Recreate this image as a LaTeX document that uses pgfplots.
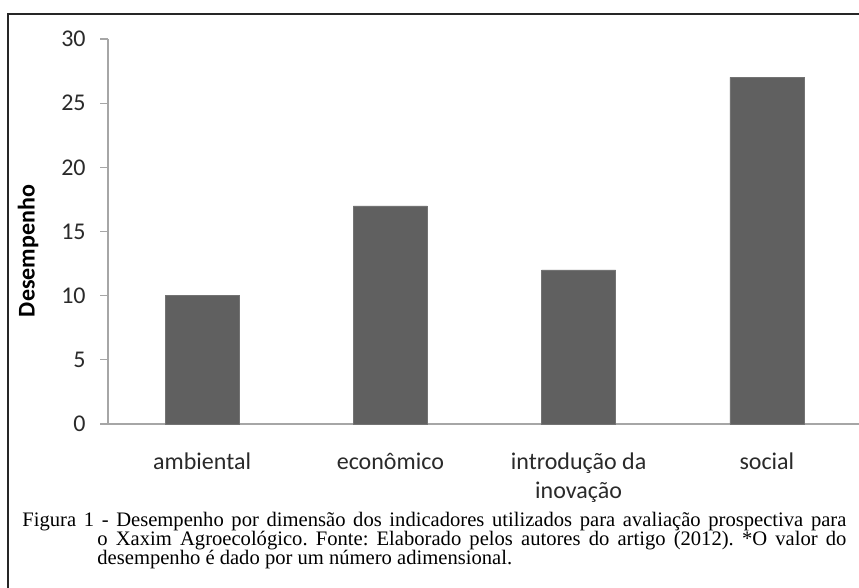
\documentclass[border=0pt]{standalone}
\usepackage{pgfplots}
\pgfplotsset{compat=1.18}
\usepackage{fontspec}
\setmainfont{Carlito}
\newfontfamily\capfont{Liberation Serif}
\definecolor{barc}{HTML}{606060}
\definecolor{axc}{HTML}{A6A6A6}
\definecolor{txt}{HTML}{2A2A2A}
\begin{document}
\begin{tikzpicture}[x=1pt,y=1pt]
\useasboundingbox (0,0) rectangle (429.5,-294);
\clip (0,0) rectangle (429.5,-294);
\fill[white] (0,0) rectangle (429.5,-294);
\draw[line width=1pt, black!85] (3.9,-300) -- (3.9,-7) -- (440,-7);
\begin{axis}[
  at={(54pt,-212pt)}, anchor=south west,
  scale only axis, width=376.5pt, height=192.5pt,
  xmin=-0.5, xmax=3.5, ymin=0, ymax=30,
  ytick={0,5,...,30},
  xtick={0,1,2,3},
  xticklabels={\strut ambiental,\strut econômico,{\strut introdução da\\inovação},\strut social},
  extra x ticks={-0.5,0.5,1.5,2.5,3.5},
  extra x tick labels={},
  extra x tick style={major tick length=4pt, tick align=outside, tick style={axc, line width=0.6pt}},
  major x tick style={draw=none},
  axis x line*=bottom, axis y line*=left,
  axis line style={axc, line width=0.6pt, -},
  tick align=outside, major tick length=4pt,
  y tick style={axc, line width=0.6pt},
  /pgf/number format/assume math mode=true,
  tick label style={font=\fontsize{12}{14.5}\selectfont, text=txt},
  yticklabel style={anchor=east, inner sep=0pt, xshift=-7pt},
  xticklabel style={align=center, anchor=north, inner sep=0pt, yshift=-8.5pt},
  clip=false,
]
\addplot[ybar, bar width=37pt, fill=barc, draw=black!55, line width=0.3pt] coordinates {(0,10) (1,17) (2,12) (3,27)};
\end{axis}
\node[rotate=90, inner sep=0pt, font=\fontsize{12}{14}\selectfont\bfseries] at (14pt,-125.5pt) {Desempenho};
\node[anchor=north west, inner sep=0pt, text width=412pt, align=justify, font=\capfont\fontsize{10.3}{9.5}\selectfont] at (11pt,-256pt)
{\frenchspacing\hangindent=37.5pt\hangafter=1 Figura 1 - Desempenho por dimensão dos indicadores utilizados para avaliação prospectiva para\linebreak o Xaxim Agroecológico. Fonte: Elaborado pelos autores do artigo (2012). *O valor do\linebreak desempenho é dado por um número adimensional.\par};
\end{tikzpicture}
\end{document}
